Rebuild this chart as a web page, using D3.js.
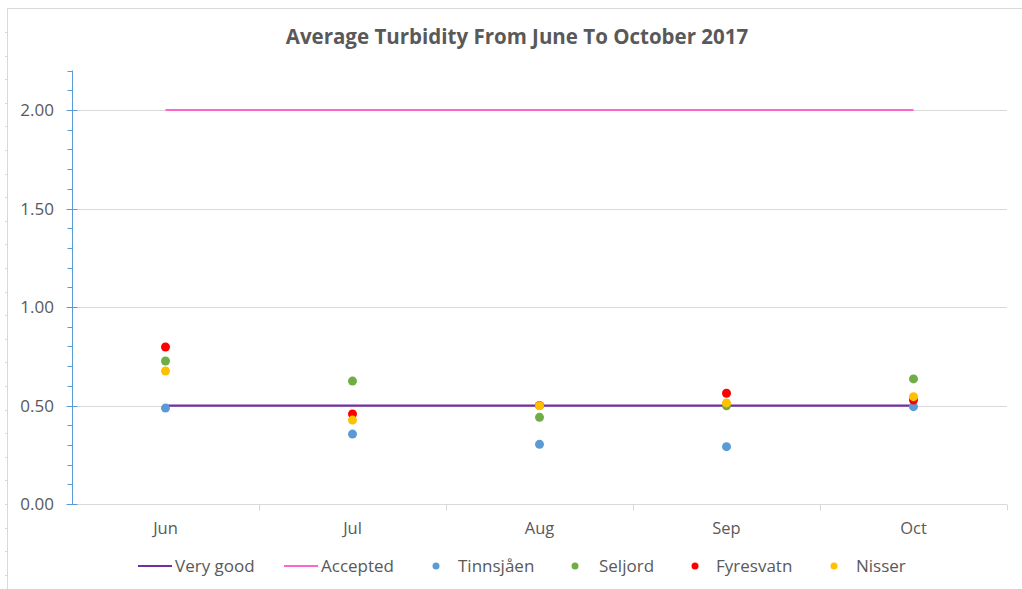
<!DOCTYPE html>
<html><head><meta charset="utf-8">
<script src="https://cdn.jsdelivr.net/npm/d3@7"></script>
<style>
html,body{margin:0;padding:0;background:#fff;}
svg{display:block;}
text{font-family:"Open Sans",Lato,sans-serif;fill:#595959;}
</style></head>
<body>
<svg id="chart" width="1022" height="589"></svg>
<script>
const months = ["Jun","Jul","Aug","Sep","Oct"];
const veryGood = [0.5,0.5,0.5,0.5,0.5];
const accepted = [2.0,2.0,2.0,2.0,2.0];
const tinnsjaen = [0.487,0.355,0.303,0.291,0.494];
const seljord = [0.726,0.624,0.44,0.499,0.635];
const fyresvatn = [0.797,0.457,0.50,0.562,0.528];
const nisser = [0.675,0.426,0.499,0.513,0.545];
const yTicks = [0,0.5,1.0,1.5,2.0];
const title = "Average Turbidity From June To October 2017";

const svg = d3.select("#chart");
const x = d3.scaleBand().domain(months).range([72,1007]);
const y = d3.scaleLinear().domain([0,2.2]).range([504,70.6]);
const cx = m => x(m) + x.bandwidth()/2;

// outer frame artifacts
svg.append("line").attr("x1",7.5).attr("x2",1022).attr("y1",8.5).attr("y2",8.5).attr("stroke","#d9d9d9");
svg.append("line").attr("x1",7.5).attr("x2",7.5).attr("y1",8.5).attr("y2",589).attr("stroke","#d9d9d9");
for(let yy=32; yy<589; yy+=23.6){
  svg.append("line").attr("x1",5).attr("x2",7.5).attr("y1",Math.round(yy)+0.5).attr("y2",Math.round(yy)+0.5).attr("stroke","#d9d9d9");
}

// title
svg.append("text").attr("x",517).attr("y",44).attr("text-anchor","middle")
  .style("font-size","20.5px").style("font-weight","bold").text(title);

// gridlines
svg.append("g").selectAll("line").data(yTicks.filter(d=>d>0)).join("line")
  .attr("x1",72).attr("x2",1007).attr("y1",d=>Math.round(y(d))+0.5).attr("y2",d=>Math.round(y(d))+0.5)
  .attr("stroke","#d9d9d9").attr("stroke-width",1);

// x axis
const xAxis = svg.append("g").attr("transform","translate(0,504.5)");
xAxis.append("line").attr("x1",72).attr("x2",1007).attr("stroke","#d9d9d9");
xAxis.selectAll("line.t").data(months).join("line").attr("class","t")
  .attr("x1",m=>Math.round(x(m)+x.bandwidth())+0.5).attr("x2",m=>Math.round(x(m)+x.bandwidth())+0.5)
  .attr("y1",0).attr("y2",6).attr("stroke","#d9d9d9");
xAxis.selectAll("text").data(months).join("text")
  .attr("x",cx).attr("y",29).attr("text-anchor","middle").style("font-size","16.5px").text(d=>d);

// y axis
const yAxisG = svg.append("g");
yAxisG.append("line").attr("x1",72.5).attr("x2",72.5).attr("y1",y(2.2)).attr("y2",504).attr("stroke","#5B9BD5");
const minor = d3.range(0,23).map(i=>i/10).filter(v=>Math.abs(v*2-Math.round(v*2))>1e-6);
yAxisG.selectAll("line.mn").data(minor).join("line").attr("class","mn")
  .attr("x1",67.5).attr("x2",72.5).attr("y1",d=>Math.round(y(d))+0.5).attr("y2",d=>Math.round(y(d))+0.5)
  .attr("stroke","#5B9BD5");
yAxisG.selectAll("line.mj").data(yTicks).join("line").attr("class","mj")
  .attr("x1",66.5).attr("x2",77.5).attr("y1",d=>Math.round(y(d))+0.5).attr("y2",d=>Math.round(y(d))+0.5)
  .attr("stroke","#5B9BD5");
yAxisG.selectAll("text").data(yTicks).join("text")
  .attr("x",54).attr("y",d=>y(d)+6).attr("text-anchor","end").style("font-size","17px")
  .text(d=>d3.format(".2f")(d));

// reference lines
const line = d3.line().x((d,i)=>cx(months[i])).y(d=>y(d));
svg.append("path").datum(accepted).attr("d",line).attr("fill","none").attr("stroke","#FF66CC").attr("stroke-width",2);
svg.append("path").datum(veryGood).attr("d",line).attr("fill","none").attr("stroke","#7030A0").attr("stroke-width",2.25);

// points
const series = [
  {name:"Tinnsjåen", vals:tinnsjaen, color:"#5B9BD5"},
  {name:"Seljord", vals:seljord, color:"#70AD47"},
  {name:"Fyresvatn", vals:fyresvatn, color:"#FF0000"},
  {name:"Nisser", vals:nisser, color:"#FFC000"}
];
series.forEach(s=>{
  svg.append("g").selectAll("circle").data(s.vals).join("circle")
    .attr("cx",(d,i)=>cx(months[i])).attr("cy",d=>y(d)).attr("r",4.5).attr("fill",s.color);
});

// legend
const lg = svg.append("g").attr("transform","translate(0,566)");
const lineItems = [{name:"Very good",color:"#7030A0",x:138},{name:"Accepted",color:"#FF66CC",x:284}];
lineItems.forEach(it=>{
  lg.append("line").attr("x1",it.x).attr("x2",it.x+34).attr("y1",0).attr("y2",0).attr("stroke",it.color).attr("stroke-width",2);
  lg.append("text").attr("x",it.x+37).attr("y",6).style("font-size","17px").text(it.name);
});
const dotX = [436,575,695,834];
const textX = [458,599,716,856];
series.forEach((s,i)=>{
  lg.append("circle").attr("cx",dotX[i]).attr("cy",0).attr("r",3.5).attr("fill",s.color);
  lg.append("text").attr("x",textX[i]).attr("y",6).style("font-size","17px").text(s.name);
});
</script>
</body></html>
